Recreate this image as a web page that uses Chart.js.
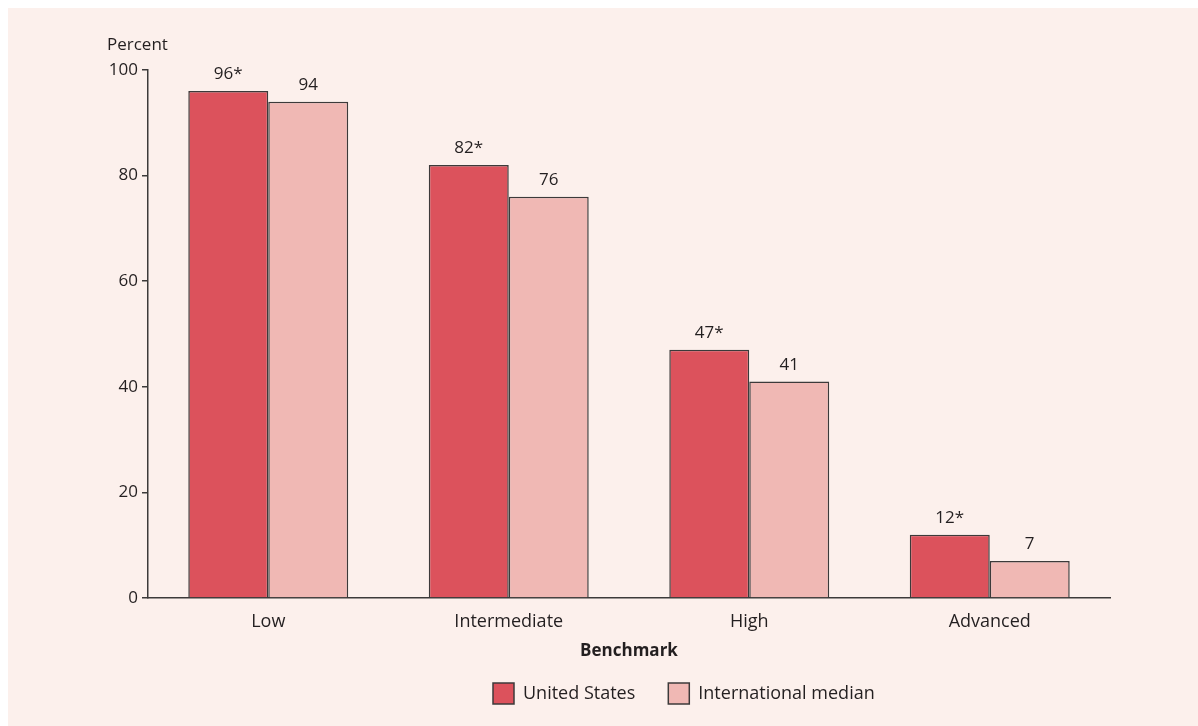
<!DOCTYPE html>
<html lang="en">
<head>
    <meta charset="UTF-8">
    <title>Benchmark percentages</title>
    <script src="https://cdn.jsdelivr.net/npm/chart.js"></script>
    <style>
        html, body { margin: 0; padding: 0; background: #ffffff; }
        #panel {
            position: absolute; left: 8px; top: 8px;
            width: 1190px; height: 718px;
            background: #fcf0ec;
        }
    </style>
</head>
<body>

    <div id="panel"><canvas id="benchmarkChart" width="1190" height="718"></canvas></div>

    <script>
        // Values
        const benchmarks = ["Low", "Intermediate", "High", "Advanced"];
        const usValues = [96, 82, 47, 12];
        const intlValues = [94, 76, 41, 7];
        const usLabels = ["96*", "82*", "47*", "12*"];
        const intlLabels = ["94", "76", "41", "7"];
        const yTicks = [0, 20, 40, 60, 80, 100];

        const FONT = "'Open Sans', sans-serif";
        const INK = "#231f20";
        const EDGE = "#3c3a3a";

        // Writes the value above each bar, the "Percent" caption and the axis title
        const barLabels = {
            id: "barLabels",
            afterLayout(chart) {
                // the legend in the figure sits right of centre, first box at x=485
                const lg = chart.legend;
                const pad = lg.options.labels.padding;
                const shift = 485 - (lg.left + pad + lg.right - lg.lineWidths[0]) / 2;
                lg.left += shift;
                lg.right += shift;
            },
            afterDatasetsDraw(chart) {
                const ctx = chart.ctx;
                ctx.save();
                ctx.font = "17px " + FONT;
                ctx.fillStyle = INK;
                ctx.textAlign = "center";
                ctx.textBaseline = "bottom";
                chart.data.datasets.forEach((ds, i) => {
                    chart.getDatasetMeta(i).data.forEach((bar, j) => {
                        ctx.fillText(ds.valueLabels[j], bar.x, bar.y - 8);
                    });
                });
                ctx.textAlign = "left";
                ctx.textBaseline = "middle";
                ctx.fillText("Percent", 99, 37);

                const area = chart.chartArea;
                ctx.font = "bold 17px " + FONT;
                ctx.textAlign = "center";
                ctx.fillText("Benchmark", (area.left + area.right) / 2, 643);
                ctx.restore();
            }
        };

        new Chart(document.getElementById("benchmarkChart"), {
            type: "bar",
            data: {
                labels: benchmarks,
                datasets: [
                    {
                        label: "United States",
                        data: usValues,
                        valueLabels: usLabels,
                        backgroundColor: "#dc525c",
                        borderColor: EDGE,
                        borderWidth: 1.5
                    },
                    {
                        label: "International median",
                        data: intlValues,
                        valueLabels: intlLabels,
                        backgroundColor: "#f0b8b4",
                        borderColor: EDGE,
                        borderWidth: 1.5
                    }
                ]
            },
            options: {
                responsive: false,
                animation: false,
                categoryPercentage: 0.665,
                barPercentage: 1,
                layout: { padding: { top: 62, right: 88, bottom: 12, left: 0 } },
                plugins: {
                    tooltip: { enabled: false },
                    legend: {
                        position: "bottom",
                        labels: {
                            font: { family: FONT, size: 18 },
                            color: INK,
                            boxWidth: 21,
                            boxHeight: 21,
                            padding: 33,
                            useBorderRadius: false
                        }
                    }
                },
                scales: {
                    x: {
                        grid: { display: false },
                        border: { display: true, color: EDGE, width: 1.5 },
                        ticks: { font: { family: FONT, size: 18 }, color: INK, padding: 5 },
                        afterFit(scale) { scale.height = 52; }
                    },
                    y: {
                        min: 0,
                        max: 100,
                        afterBuildTicks(scale) { scale.ticks = yTicks.map(v => ({ value: v })); },
                        grid: { display: true, drawOnChartArea: false, tickLength: 6, color: EDGE, lineWidth: 1.5 },
                        border: { display: true, color: EDGE, width: 1.5 },
                        ticks: { font: { family: FONT, size: 17 }, color: INK, padding: 4 },
                        afterFit(scale) { scale.width = 140; }
                    }
                }
            },
            plugins: [barLabels]
        });
    </script>

</body>
</html>
